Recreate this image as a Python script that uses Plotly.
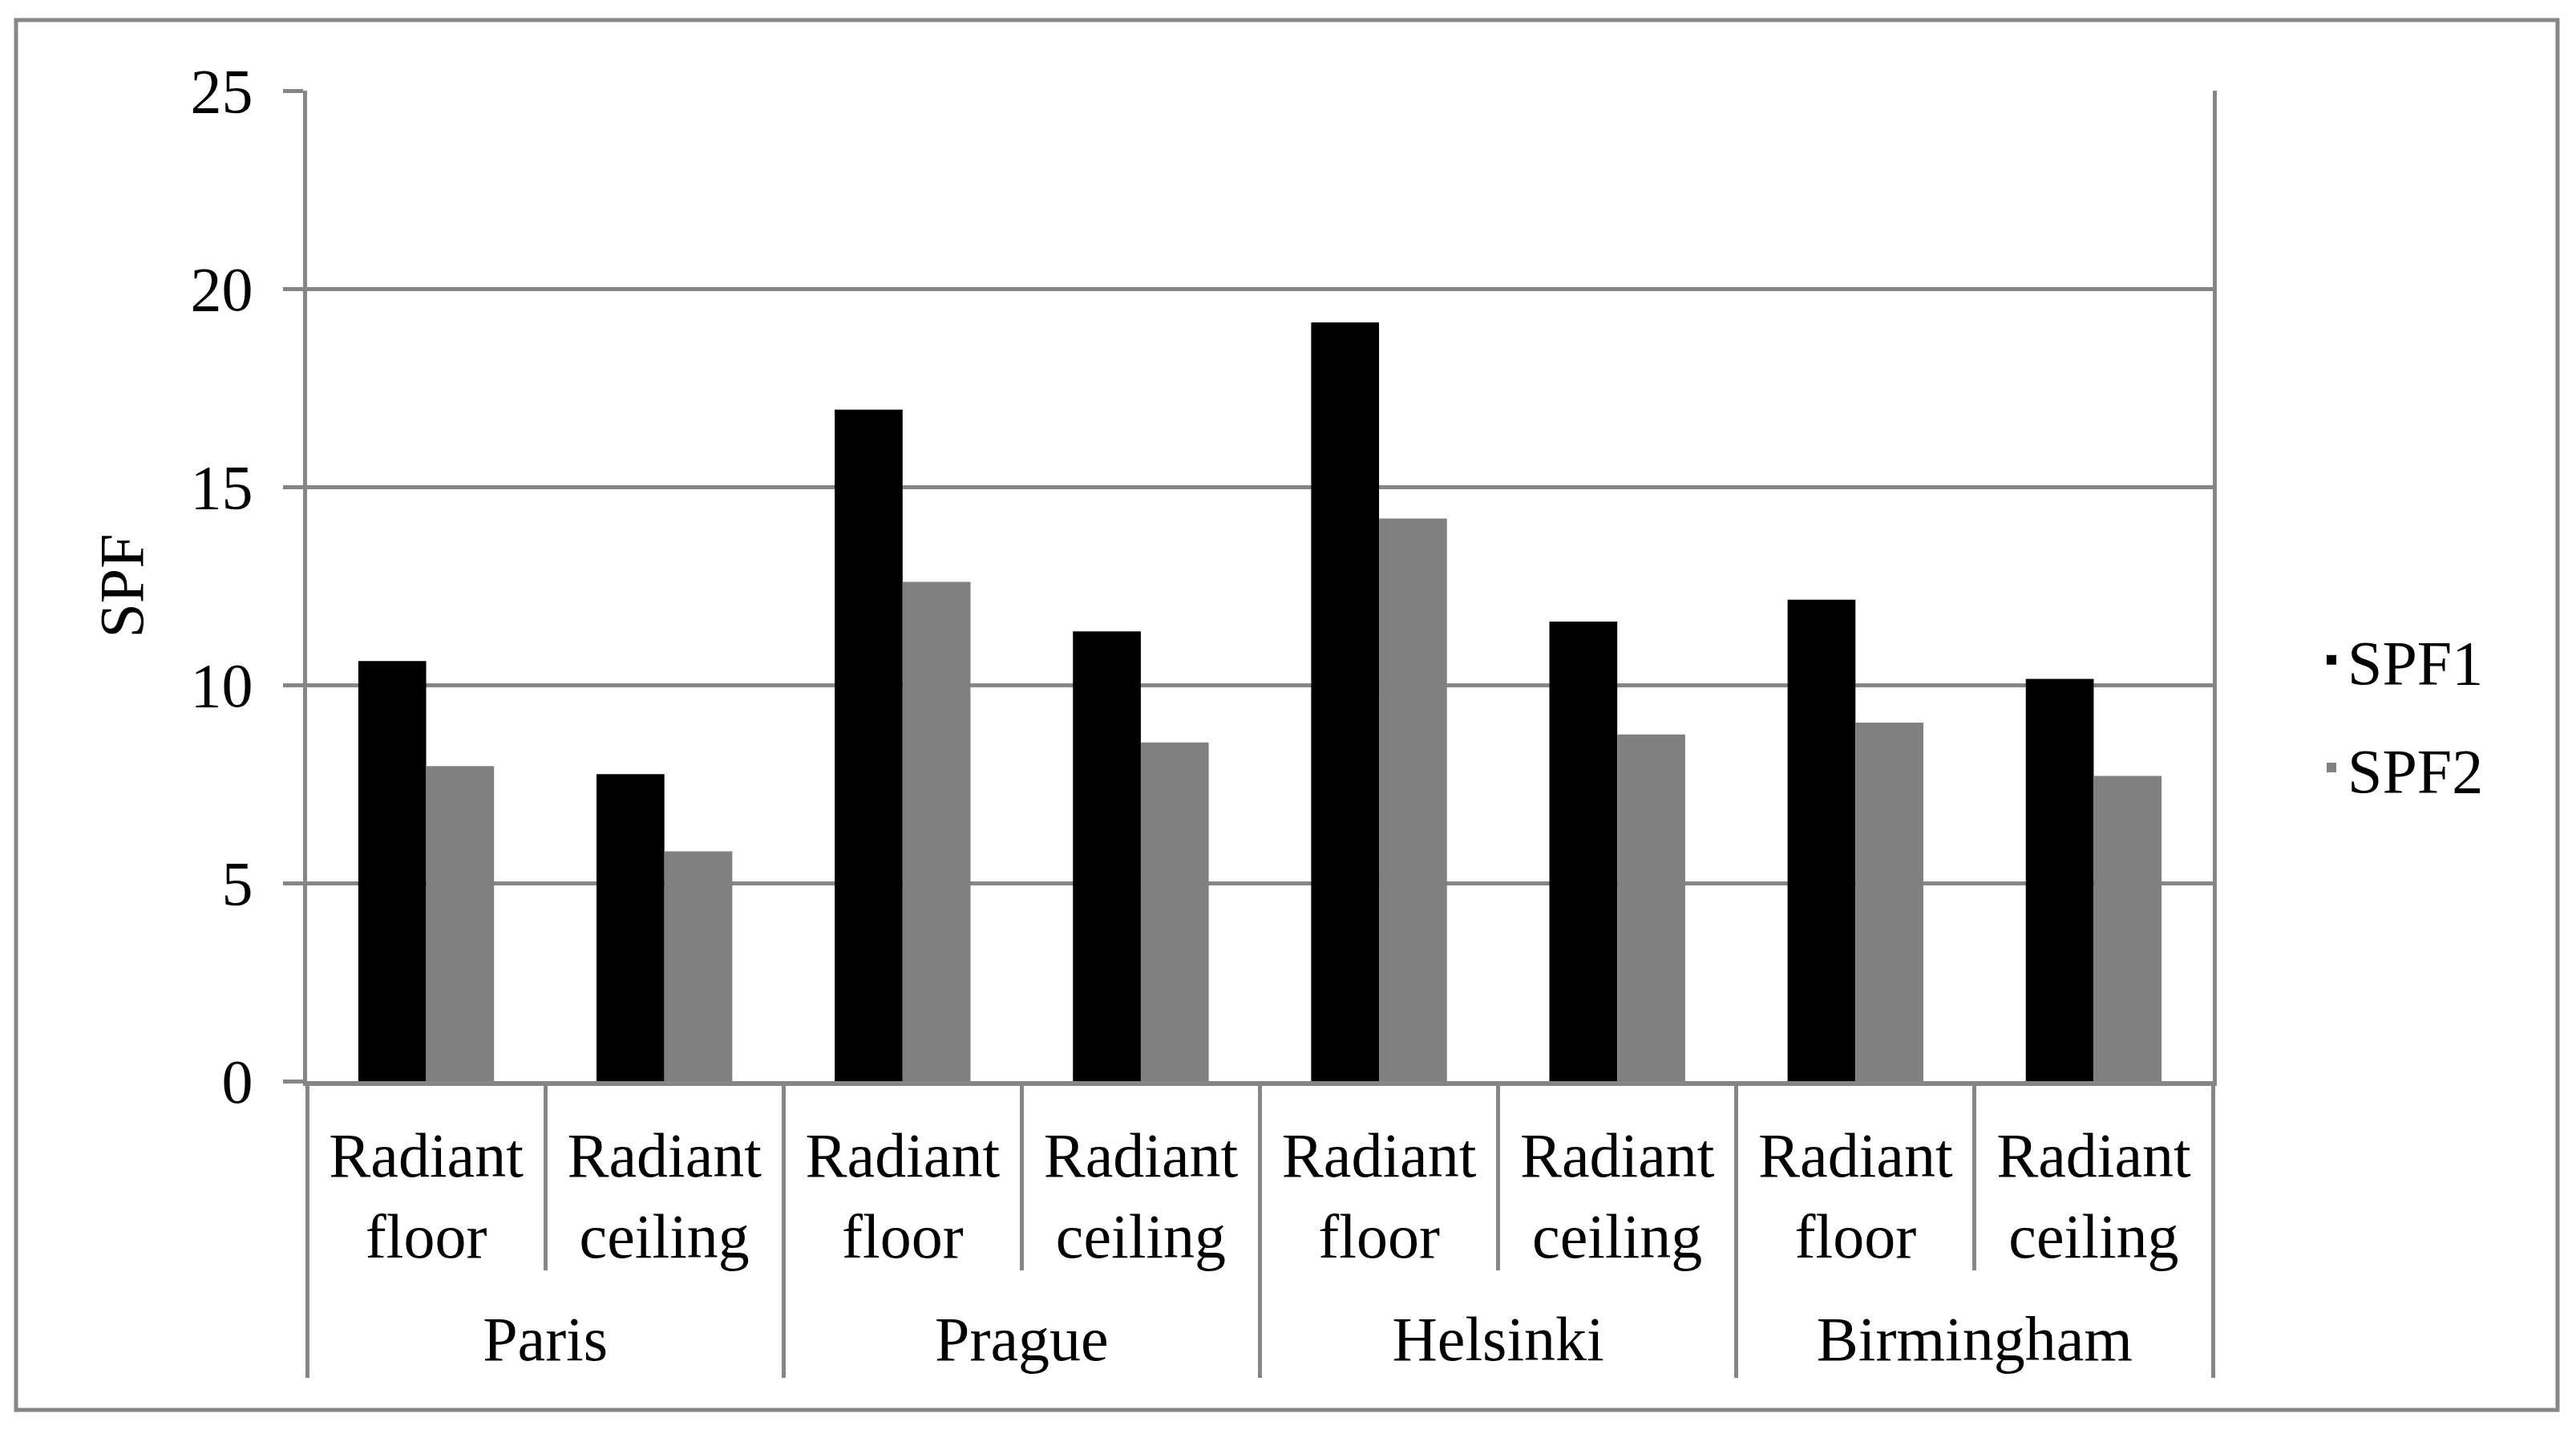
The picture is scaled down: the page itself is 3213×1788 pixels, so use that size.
import plotly.graph_objects as go

cities = ["Paris", "Prague", "Helsinki", "Birmingham"]
systems = ["Radiant<br>floor", "Radiant<br>ceiling"]
spf1 = [10.6, 7.75, 16.95, 11.35, 19.15, 11.6, 12.15, 10.15]
spf2 = [7.95, 5.8, 12.6, 8.55, 14.2, 8.75, 9.05, 7.7]
series_names = ["SPF1", "SPF2"]
series_colors = ["#000000", "#808080"]
y_ticks = [0, 5, 10, 15, 20, 25]

# category positions on the x axis (one slot per city/system pair)
n_sys = len(systems)
n_cat = len(cities) * n_sys
pos = list(range(n_cat))
sys_labels = [s for _ in cities for s in systems]
city_centers = [i * n_sys + (n_sys - 1) / 2 for i in range(len(cities))]
inner_bounds = [i * n_sys + k - 0.5 for i in range(len(cities)) for k in range(1, n_sys)]
city_bounds = [i * n_sys - 0.5 for i in range(len(cities) + 1)]
x_range = [-0.5, n_cat - 0.5]

FONT = "Liberation Serif, Times New Roman, serif"
GRID = "#868686"
FS = 78

fig = go.Figure()
for name, vals, col, grp in zip(series_names, [spf1, spf2], series_colors, ["g1", "g2"]):
    fig.add_trace(go.Bar(
        x=pos, y=vals, name=name,
        marker=dict(color=col, line=dict(width=0)),
        legendgroup=grp,
    ))

# empty helper trace so that the city-level axis (x2) is drawn
fig.add_trace(go.Scatter(
    x=city_centers, y=[None] * len(city_centers), xaxis="x2", yaxis="y",
    mode="markers", showlegend=False, hoverinfo="skip",
))

W, H = 3213, 1788
L, R, T, B = 383, 453, 113, 440
pw, ph = W - L - R, H - T - B

def px_x(p):
    return (p - L) / pw

def px_y(p):
    return (H - B - p) / ph

fig.update_layout(
    width=W, height=H,
    margin=dict(l=L, r=R, t=T, b=B, pad=0),
    paper_bgcolor="white", plot_bgcolor="white",
    font=dict(family=FONT, size=FS, color="black"),
    barmode="group", bargap=0.43, bargroupgap=0,
    showlegend=True,
    legend=dict(
        x=px_x(2888), y=px_y(890), xanchor="left", yanchor="middle",
        font=dict(size=FS, family=FONT), traceorder="grouped",
        tracegroupgap=30, bgcolor="rgba(0,0,0,0)",
    ),
    xaxis=dict(
        type="linear", range=x_range, fixedrange=True,
        showline=True, linecolor=GRID, linewidth=6,
        tickmode="array", tickvals=pos, ticktext=sys_labels,
        ticks="", showgrid=False, zeroline=False,
        minor=dict(tickmode="array", tickvals=inner_bounds, ticks="outside",
                   ticklen=230, tickwidth=5, tickcolor=GRID, showgrid=False),
        tickfont=dict(size=FS, family=FONT, color="black"),
        ticklabelstandoff=19,
    ),
    xaxis2=dict(
        type="linear", range=x_range, fixedrange=True,
        overlaying="x", anchor="y", side="bottom",
        showline=False, showgrid=False, zeroline=False,
        tickmode="array", tickvals=city_centers, ticktext=cities, ticks="",
        minor=dict(tickmode="array", tickvals=city_bounds, ticks="outside",
                   ticklen=369, tickwidth=5, tickcolor=GRID, showgrid=False),
        tickfont=dict(size=FS, family=FONT, color="black"),
        ticklabelstandoff=269,
    ),
    yaxis=dict(
        range=[0, 25], tickvals=y_ticks, fixedrange=True,
        showline=True, linecolor=GRID, linewidth=5, mirror=True,
        showgrid=True, gridcolor=GRID, gridwidth=5,
        zeroline=False,
        ticks="outside", ticklen=25, tickwidth=5, tickcolor=GRID,
        tickfont=dict(size=FS, family=FONT, color="black"),
        ticklabelstandoff=22,
        title=dict(text="SPF", font=dict(size=FS, family=FONT, color="black"), standoff=35),
    ),
    shapes=[dict(
        type="rect", xref="paper", yref="paper",
        x0=px_x(20), x1=px_x(3190), y0=px_y(1758), y1=px_y(25),
        line=dict(color=GRID, width=5), fillcolor="rgba(0,0,0,0)", layer="below",
    )],
)

fig.write_html(
    "out.html",
    config={"displayModeBar": False},
    post_script="document.body.style.margin='0';document.body.style.overflow='hidden';",
)
